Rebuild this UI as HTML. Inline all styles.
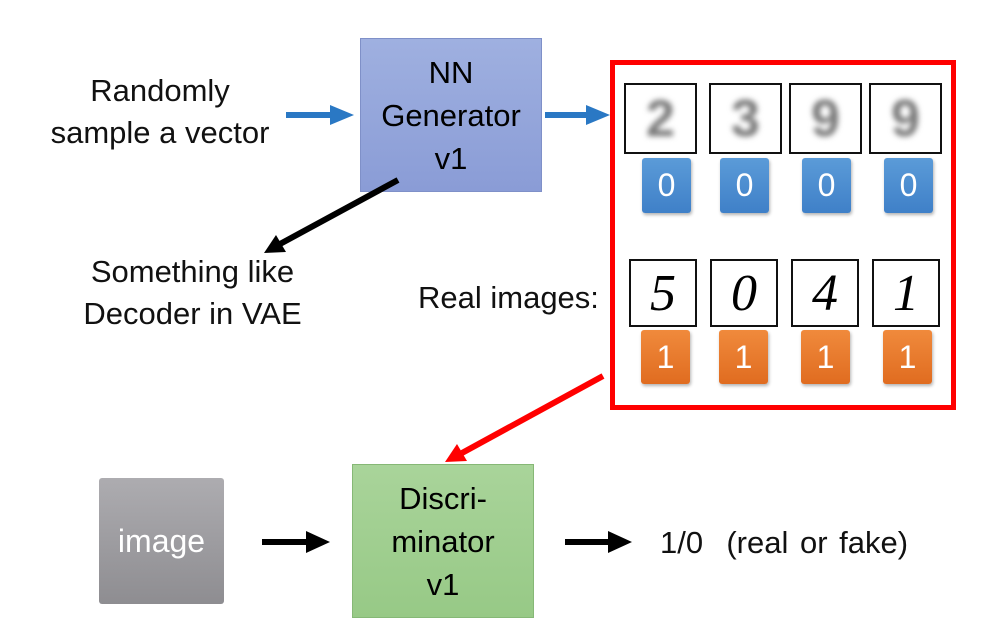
<!DOCTYPE html>
<html><head><style>
body{margin:0;width:1000px;height:639px;background:#fff;position:relative;overflow:hidden;font-family:"Liberation Sans",sans-serif;}
.t{position:absolute;font-size:31px;color:#111;text-align:center;line-height:42px;}
.box{position:absolute;display:flex;align-items:center;justify-content:center;text-align:center;font-size:31px;line-height:43px;}
.img{position:absolute;border:2px solid #111;background:#fff;box-sizing:border-box;font-size:52px;display:flex;align-items:center;justify-content:center;}
.lab{position:absolute;color:#fff;font-size:32px;display:flex;align-items:center;justify-content:center;border-radius:3px;box-shadow:1px 2px 3px rgba(0,0,0,.3);}
.b{background:linear-gradient(#5b9bd8,#3f80c8);}
.o{background:linear-gradient(#f08a3c,#e06c20);}
.blur{color:#777;filter:blur(3px);font-weight:bold;}
.real{font-family:"Liberation Serif",serif;font-style:italic;color:#000;}
</style></head><body>
<div class="t" style="left:20px;top:70px;width:280px">Randomly<br>sample a vector</div>
<div class="box" style="left:360px;top:38px;width:180px;height:152px;background:linear-gradient(#9fb0e0,#8a9cd6);border:1px solid #7f90c8;">NN<br>Generator<br>v1</div>
<div class="t" style="left:50px;top:251px;width:285px">Something like<br>Decoder in VAE</div>
<div class="t" style="left:418px;top:277px;width:190px;text-align:left">Real images:</div>
<div style="position:absolute;left:610px;top:60px;width:336px;height:340px;border:5px solid #f00"></div>
<div class="img" style="left:624px;top:83px;width:73px;height:71px"><span class="blur">2</span></div>
<div class="img" style="left:709px;top:83px;width:73px;height:71px"><span class="blur">3</span></div>
<div class="img" style="left:789px;top:83px;width:73px;height:71px"><span class="blur">9</span></div>
<div class="img" style="left:869px;top:83px;width:73px;height:71px"><span class="blur">9</span></div>
<div class="lab b" style="left:642px;top:158px;width:49px;height:55px">0</div>
<div class="lab b" style="left:720px;top:158px;width:49px;height:55px">0</div>
<div class="lab b" style="left:802px;top:158px;width:49px;height:55px">0</div>
<div class="lab b" style="left:884px;top:158px;width:49px;height:55px">0</div>
<div class="img" style="left:629px;top:259px;width:68px;height:68px"><span class="real">5</span></div>
<div class="img" style="left:710px;top:259px;width:68px;height:68px"><span class="real">0</span></div>
<div class="img" style="left:791px;top:259px;width:68px;height:68px"><span class="real">4</span></div>
<div class="img" style="left:872px;top:259px;width:68px;height:68px"><span class="real">1</span></div>
<div class="lab o" style="left:641px;top:330px;width:49px;height:54px">1</div>
<div class="lab o" style="left:719px;top:330px;width:49px;height:54px">1</div>
<div class="lab o" style="left:801px;top:330px;width:49px;height:54px">1</div>
<div class="lab o" style="left:883px;top:330px;width:49px;height:54px">1</div>
<div class="box" style="left:99px;top:478px;width:125px;height:126px;background:linear-gradient(#adacb0,#8e8d91);color:#fff;border-radius:3px;font-size:32px">image</div>
<div class="box" style="left:352px;top:464px;width:180px;height:152px;background:linear-gradient(#a9d49a,#97c986);border:1px solid #86b876;">Discri-<br>minator<br>v1</div>
<div class="t" style="left:660px;top:522px;width:300px;text-align:left;word-spacing:3px">1/0&nbsp; (real or fake)</div>
<svg width="1000" height="639" style="position:absolute;left:0;top:0">
<g stroke-width="6">
<line x1="286" y1="115" x2="334" y2="115" stroke="#2a78c4"/><polygon points="330,105 354,115 330,125" fill="#2a78c4"/>
<line x1="545" y1="115" x2="590" y2="115" stroke="#2a78c4"/><polygon points="586,105 610,115 586,125" fill="#2a78c4"/>
<line x1="398" y1="180" x2="280" y2="244" stroke="#000"/><polygon points="264,253 276,235 286,252" fill="#000"/>
<line x1="603" y1="376" x2="462" y2="453" stroke="#f00"/><polygon points="445,462 457,444 467,461" fill="#f00"/>
<line x1="262" y1="542" x2="310" y2="542" stroke="#000"/><polygon points="306,531 330,542 306,553" fill="#000"/>
<line x1="565" y1="542" x2="612" y2="542" stroke="#000"/><polygon points="608,531 632,542 608,553" fill="#000"/>
</g></svg>
</body></html>
